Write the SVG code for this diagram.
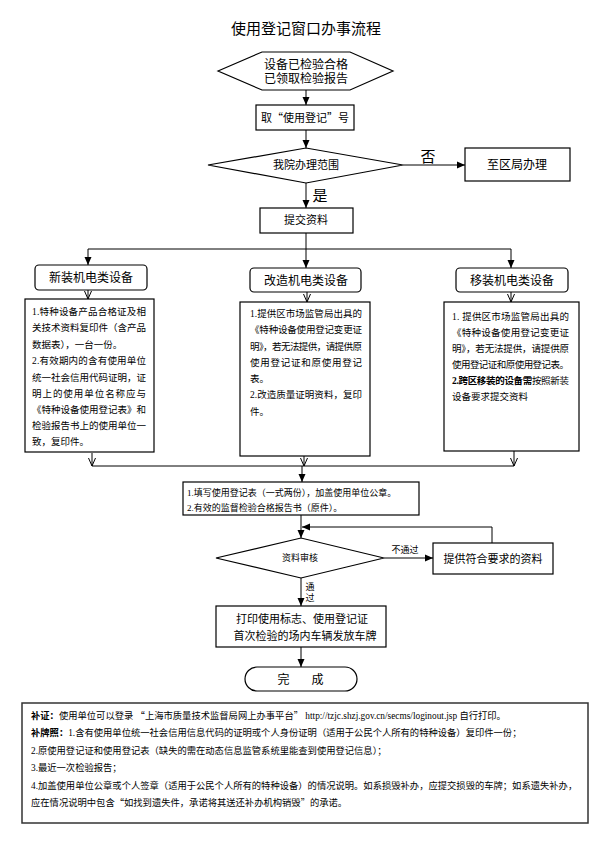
<svg xmlns="http://www.w3.org/2000/svg" width="610" height="862" viewBox="0 0 610 862">
<style>
text{font-family:"Liberation Serif","Noto Sans CJK SC",serif;fill:#000}
.q{font-family:"Noto Sans CJK SC",sans-serif}
.box{fill:#fff;stroke:#000;stroke-width:1.2}
.ln{fill:none;stroke:#000;stroke-width:1}
.arr{marker-end:url(#fa)}
.oarr{marker-end:url(#oa)}
.c{text-anchor:middle}
.b{font-weight:bold}
.t9{font-size:9px}
.t95{font-size:9.5px}
.t11{font-size:11px}
.t12{font-size:12px}
.n{font-size:9.3px}
</style>
<defs>
<marker id="fa" markerUnits="userSpaceOnUse" markerWidth="8" markerHeight="8" viewBox="0 0 8 8" refX="8" refY="4" orient="auto">
<path d="M0,0.5 L8,4 L0,7.5 Z" fill="#000"/>
</marker>
<marker id="oa" markerUnits="userSpaceOnUse" markerWidth="8" markerHeight="8" viewBox="0 0 8 8" refX="8" refY="4" orient="auto">
<path d="M0,0.5 L8,4 L0,7.5" fill="none" stroke="#000" stroke-width="1"/>
</marker>
</defs>
<rect width="610" height="862" fill="#fff"/>
<text id="title" x="306" y="34" class="c" font-size="15">使用登记窗口办事流程</text>

<g id="connectors">
<line class="ln arr" x1="306" y1="90" x2="306" y2="105"/>
<line class="ln arr" x1="306" y1="130" x2="306" y2="148"/>
<line class="ln arr" x1="403" y1="165" x2="465" y2="165"/>
<line class="ln arr" x1="306" y1="183" x2="306" y2="208"/>
<line class="ln" x1="306" y1="233" x2="306" y2="249"/>
<line class="ln" x1="88" y1="249" x2="511" y2="249"/>
<line class="ln arr" x1="88" y1="249" x2="88" y2="265"/>
<line class="ln arr" x1="306" y1="249" x2="306" y2="268"/>
<line class="ln arr" x1="511" y1="249" x2="511" y2="268"/>
<line class="ln oarr" x1="88" y1="290" x2="88" y2="299"/>
<line class="ln oarr" x1="307" y1="292" x2="307" y2="302"/>
<line class="ln oarr" x1="511" y1="292" x2="511" y2="302"/>
<line class="ln oarr" x1="92" y1="453" x2="92" y2="466"/>
<line class="ln oarr" x1="304" y1="456" x2="304" y2="466"/>
<line class="ln oarr" x1="514" y1="451" x2="514" y2="466"/>
<line class="ln" x1="92" y1="466" x2="514" y2="466"/>
<line class="ln arr" x1="302" y1="466" x2="302" y2="482"/>
<line class="ln arr" x1="301" y1="515" x2="301" y2="538"/>
<polyline class="ln arr" points="492,543 492,527 302,527"/>
<line class="ln arr" x1="384" y1="558" x2="433" y2="558"/>
<line class="ln arr" x1="301" y1="578" x2="301" y2="606"/>
<line class="ln arr" x1="301" y1="647" x2="301" y2="667"/>
<text x="428" y="162" class="c" font-size="15">否</text>
<text x="320" y="201" class="c" font-size="15">是</text>
<text x="405" y="553" class="c t9">不通过</text>
<text x="310" y="590" class="c t9">通</text>
<text x="310" y="601" class="c t9">过</text>
</g>

<g id="start">
<polygon class="box" points="218,71 262,52 350,52 393,71 350,90 262,90"/>
<text x="306" y="69" class="c t12">设备已检验合格</text>
<text x="306" y="83" class="c t12">已领取检验报告</text>
</g>

<g id="take-number">
<rect class="box" x="256" y="105" width="98" height="25"/>
<text x="305" y="122" class="c t11">取<tspan class="q">“</tspan>使用登记<tspan class="q">”</tspan>号</text>
</g>

<g id="scope">
<polygon class="box" points="208,165 306,148 403,165 306,183"/>
<text x="306" y="169" class="c t11">我院办理范围</text>
</g>

<g id="district">
<rect class="box" x="465" y="148" width="105" height="33"/>
<text x="517" y="169" class="c t12">至区局办理</text>
</g>

<g id="submit">
<rect class="box" x="260" y="208" width="93" height="25"/>
<text x="306" y="224" class="c t11">提交资料</text>
</g>

<g id="new-header">
<rect class="box" x="35" y="265" width="112" height="25" rx="4"/>
<text x="91" y="282" class="c t12">新装机电类设备</text>
</g>
<g id="mod-header">
<rect class="box" x="250" y="268" width="111" height="24" rx="4"/>
<text x="306" y="285" class="c t12">改造机电类设备</text>
</g>
<g id="move-header">
<rect class="box" x="456" y="268" width="112" height="24" rx="4"/>
<text x="512" y="285" class="c t12">移装机电类设备</text>
</g>

<g id="new-docs">
<rect class="box" x="25" y="299" width="129" height="153"/>
<text class="t95" x="32" y="315" textLength="114" lengthAdjust="spacing">1.特种设备产品合格证及相</text>
<text class="t95" x="32" y="331" textLength="114" lengthAdjust="spacing">关技术资料复印件（含产品</text>
<text class="t95" x="32" y="348">数据表），一台一份。</text>
<text class="t95" x="32" y="364" textLength="114" lengthAdjust="spacing">2.有效期内的含有使用单位</text>
<text class="t95" x="32" y="381" textLength="114" lengthAdjust="spacing">统一社会信用代码证明，证</text>
<text class="t95" x="32" y="397" textLength="114" lengthAdjust="spacing">明上的使用单位名称应与</text>
<text class="t95" x="32" y="413" textLength="114" lengthAdjust="spacing">《特种设备使用登记表》和</text>
<text class="t95" x="32" y="429" textLength="114" lengthAdjust="spacing">检验报告书上的使用单位一</text>
<text class="t95" x="32" y="445">致，复印件。</text>
</g>

<g id="mod-docs">
<rect class="box" x="240" y="302" width="130" height="154"/>
<text class="t95" x="250" y="317" textLength="112" lengthAdjust="spacing">1.提供区市场监管局出具的</text>
<text class="t95" x="250" y="333" textLength="112" lengthAdjust="spacing">《特种设备使用登记变更证</text>
<text class="t95" x="250" y="350" textLength="112" lengthAdjust="spacing">明》，若无法提供，请提供原</text>
<text class="t95" x="250" y="366" textLength="112" lengthAdjust="spacing">使用登记证和原使用登记</text>
<text class="t95" x="250" y="382">表。</text>
<text class="t95" x="250" y="398" textLength="112" lengthAdjust="spacing">2.改造质量证明资料，复印</text>
<text class="t95" x="250" y="415">件。</text>
</g>

<g id="move-docs">
<rect class="box" x="444" y="302" width="135" height="149"/>
<text class="t95" x="452" y="320" textLength="117" lengthAdjust="spacing">1. 提供区市场监管局出具的</text>
<text class="t95" x="452" y="336" textLength="117" lengthAdjust="spacing">《特种设备使用登记变更证</text>
<text class="t95" x="452" y="352" textLength="117" lengthAdjust="spacing">明》，若无法提供，请提供原</text>
<text class="t95" x="452" y="368" textLength="117" lengthAdjust="spacing">使用登记证和原使用登记表。</text>
<text class="t95" x="452" y="384" textLength="117" lengthAdjust="spacing"><tspan class="b">2.跨区移装的设备需</tspan>按照新装</text>
<text class="t95" x="452" y="400">设备要求提交资料</text>
</g>

<g id="form">
<rect class="box" x="183" y="482" width="236" height="33"/>
<text class="t9" x="187" y="496">1.填写使用登记表（一式两份），加盖使用单位公章。</text>
<text class="t9" x="187" y="511">2.有效的监督检验合格报告书（原件）。</text>
</g>

<g id="review">
<polygon class="box" points="216,558 301,538 384,558 301,578"/>
<text x="300" y="561" class="c t9">资料审核</text>
</g>

<g id="resubmit">
<rect class="box" x="433" y="543" width="120" height="31"/>
<text x="493" y="563" class="c t11">提供符合要求的资料</text>
</g>

<g id="print">
<rect class="box" x="216" y="606" width="170" height="41"/>
<text x="302" y="623" class="c t11">打印使用标志、使用登记证</text>
<text x="305" y="640" class="c t11">首次检验的场内车辆发放车牌</text>
</g>

<g id="done">
<rect class="box" x="245" y="667" width="112" height="24" rx="12"/>
<text x="303" y="684" class="c t12" letter-spacing="5">完　成</text>
</g>

<g id="notes">
<rect x="22" y="703" width="566" height="120" fill="#fff" stroke="#333" stroke-width="1.5"/>
<text class="n" x="31" y="719"><tspan class="b">补证：</tspan>使用单位可以登录 <tspan class="q">“</tspan>上海市质量技术监督局网上办事平台<tspan class="q">”</tspan> http://tzjc.shzj.gov.cn/secms/loginout.jsp 自行打印。</text>
<text class="n" x="31" y="736"><tspan class="b">补牌照：</tspan>1.含有使用单位统一社会信用信息代码的证明或个人身份证明（适用于公民个人所有的特种设备）复印件一份；</text>
<text class="n" x="31" y="754">2.原使用登记证和使用登记表（缺失的需在动态信息监管系统里能查到使用登记信息）；</text>
<text class="n" x="31" y="771">3.最近一次检验报告；</text>
<text class="n" x="31" y="789">4.加盖使用单位公章或个人签章（适用于公民个人所有的特种设备）的情况说明。如系损毁补办，应提交损毁的车牌；如系遗失补办，</text>
<text class="n" x="31" y="806">应在情况说明中包含<tspan class="q">“</tspan>如找到遗失件，承诺将其送还补办机构销毁<tspan class="q">”</tspan>的承诺。</text>
</g>
</svg>
